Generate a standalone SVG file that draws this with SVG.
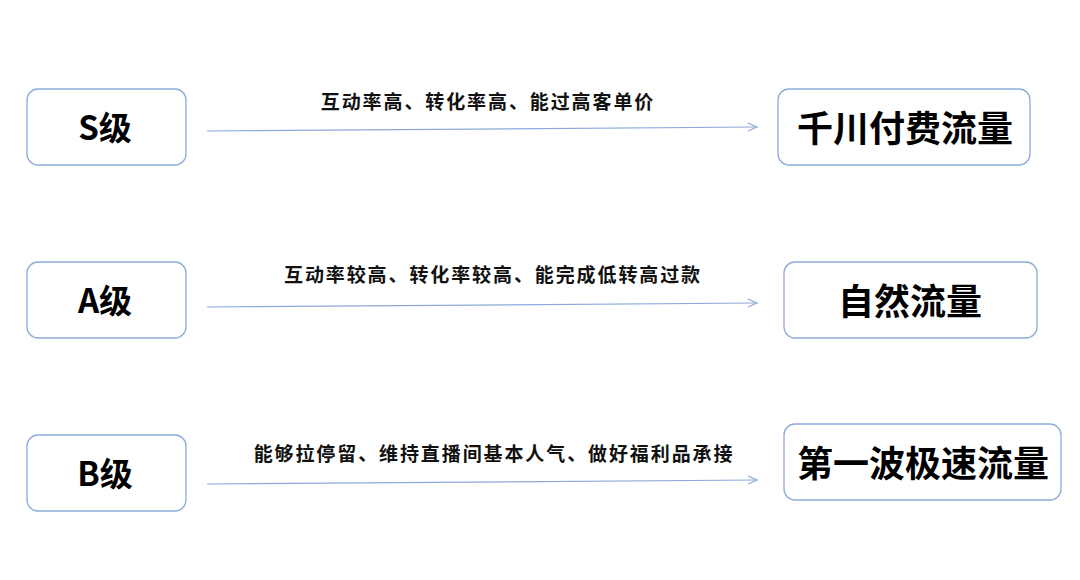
<svg xmlns="http://www.w3.org/2000/svg" width="1080" height="580" viewBox="0 0 1080 580">
<style>
.box{fill:#fff;stroke:#8eaadb;stroke-width:1.3}
.t{font-family:"Noto Sans CJK SC","Noto Sans",sans-serif;font-weight:bold;fill:#000;text-anchor:middle;dominant-baseline:central}
.l{font-size:33px}
.r{font-size:36px}
.lab{font-family:"Noto Sans CJK SC","Noto Sans",sans-serif;font-size:19px;font-weight:bold;fill:#111;letter-spacing:1.9px;text-anchor:middle;dominant-baseline:central}
.ar{stroke:#8eaadb;stroke-width:1.2;fill:none}
</style>
<defs>
<marker id="ah" markerWidth="12" markerHeight="10" refX="10" refY="5" orient="auto" markerUnits="userSpaceOnUse">
<path d="M1,1 L10,5 L1,9" fill="none" stroke="#8eaadb" stroke-width="1.2"/>
</marker>
</defs>
<rect width="1080" height="580" fill="#fff"/>
<g id="connectors">
<line class="ar" x1="207" y1="131" x2="757" y2="127" marker-end="url(#ah)"/>
<line class="ar" x1="207" y1="307" x2="757" y2="303" marker-end="url(#ah)"/>
<line class="ar" x1="207" y1="484" x2="757" y2="480" marker-end="url(#ah)"/>
<text class="lab" x="488" y="100">互动率高、转化率高、能过高客单价</text>
<text class="lab" x="493" y="273">互动率较高、转化率较高、能完成低转高过款</text>
<text class="lab" x="494" y="452">能够拉停留、维持直播间基本人气、做好福利品承接</text>
</g>
<g id="S"><rect class="box" x="27" y="89" width="159" height="76" rx="11"/><text class="t l" x="105" y="126">S级</text></g>
<g id="A"><rect class="box" x="27" y="262" width="159" height="76" rx="11"/><text class="t l" x="105" y="299">A级</text></g>
<g id="B"><rect class="box" x="27" y="435" width="159" height="76" rx="11"/><text class="t l" x="105" y="472">B级</text></g>
<g id="qianchuan"><rect class="box" x="778" y="89" width="252" height="76" rx="11"/><text class="t r" x="905" y="126">千川付费流量</text></g>
<g id="ziran"><rect class="box" x="784" y="262" width="253" height="76" rx="11"/><text class="t r" x="910" y="299">自然流量</text></g>
<g id="jisu"><rect class="box" x="784" y="424" width="277" height="76" rx="11"/><text class="t r" x="923" y="461">第一波极速流量</text></g>
</svg>
